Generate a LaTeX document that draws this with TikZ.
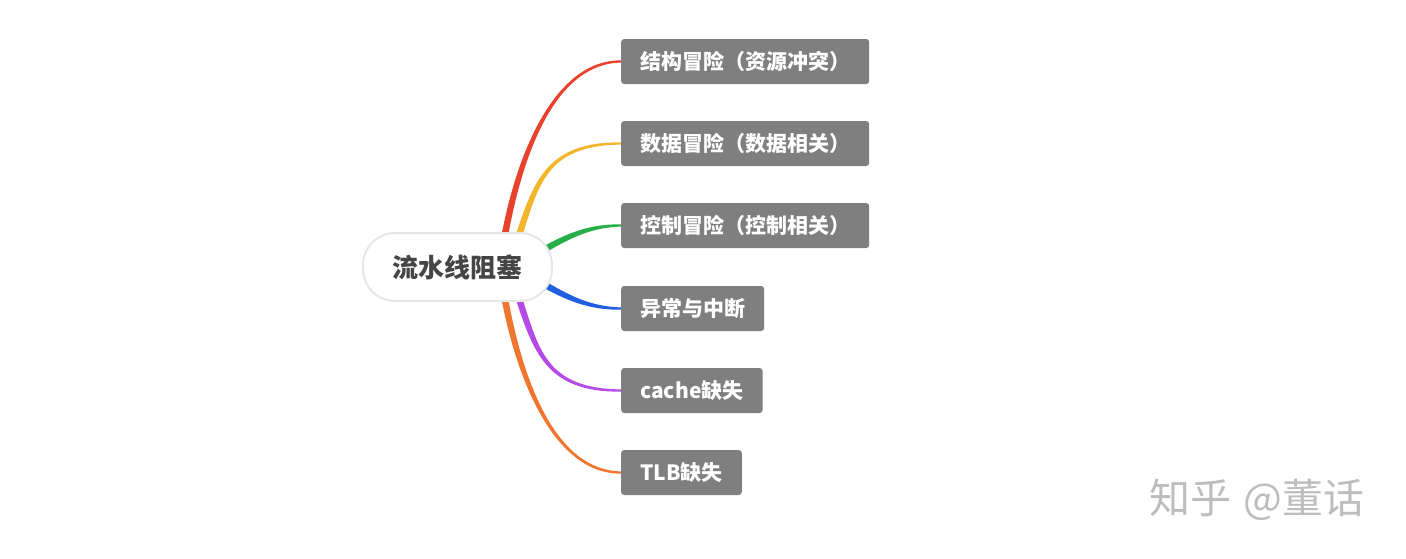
\documentclass[tikz,border=0pt]{standalone}
\usepackage{fontspec}
\setmainfont{Noto Sans CJK SC}
\usepackage{tikz}
\usepackage{xcolor}
\usetikzlibrary{calc,backgrounds}
\definecolor{leafgray}{HTML}{7F7F7F}
\definecolor{rootline}{HTML}{E6E6E6}
\definecolor{roottext}{HTML}{454545}
\definecolor{markgray}{HTML}{BDBDBD}
\definecolor{hzred}{HTML}{E8412C}
\definecolor{hzyellow}{HTML}{F2B52B}
\definecolor{hzgreen}{HTML}{27AE48}
\definecolor{hzblue}{HTML}{1F5FE0}
\definecolor{hzpurple}{HTML}{B44BE6}
\definecolor{hzorange}{HTML}{F07630}
\tikzset{
  root/.style={draw=rootline, line width=2pt, fill=white, rounded corners=32pt,
    minimum width=189pt, minimum height=68pt, inner sep=0pt,
    text=roottext, font=\bfseries\fontsize{26}{26}\selectfont},
  leaf/.style={fill=leafgray, text=white, rounded corners=3pt, anchor=west,
    minimum height=45pt, inner xsep=19pt, inner ysep=0pt,
    font=\bfseries\fontsize{21}{21}\selectfont},
  watermark/.style={text=markgray, anchor=west, font=\fontsize{41}{41}\selectfont},
}
\newcommand{\limb}[6]{%
  \fill[#1] ($(#2)+(#4+90:3.3)$)
    .. controls ($(#2)+(#4:#5)+(#4+90:3)$) and ($(#3.west)+(-#6,2)$) .. ($(#3.west)+(0,1.1)$)
    -- ($(#3.west)+(0,-1.1)$)
    .. controls ($(#3.west)+(-#6,-2)$) and ($(#2)+(#4:#5)+(#4-90:3)$) .. ($(#2)+(#4-90:3.3)$)
    -- cycle;}

\begin{document}
\begin{tikzpicture}[x=1pt,y=-1pt]
  \useasboundingbox (0,0) rectangle (1406,558);
  \node[root] (hazard) at (457.5,267) {流水线阻塞};
  \node[leaf] (b1) at (621,61.5) {结构冒险（资源冲突）};
  \node[leaf] (b2) at (621,143.5) {数据冒险（数据相关）};
  \node[leaf] (b3) at (621,225.5) {控制冒险（控制相关）};
  \node[leaf] (b4) at (621,308.5) {异常与中断};
  \node[leaf] (b5) at (621,390.5) {cache缺失};
  \node[leaf] (b6) at (621,472.5) {TLB缺失};
  \coordinate (s1) at ($(hazard.center)+(46.5,-27)$);
  \coordinate (s2) at ($(hazard.center)+(60,-27)$);
  \coordinate (s3) at ($(hazard.center)+(82.5,-15)$);
  \coordinate (s4) at ($(hazard.center)+(82.5,15)$);
  \coordinate (s5) at ($(hazard.center)+(60,27)$);
  \coordinate (s6) at ($(hazard.center)+(46.5,27)$);
  \begin{scope}[on background layer]
    \limb{hzred}{s1}{b1}{-80}{90}{65}
    \limb{hzyellow}{s2}{b2}{-72}{60}{75}
    \limb{hzgreen}{s3}{b3}{-30}{30}{32}
    \limb{hzblue}{s4}{b4}{30}{30}{32}
    \limb{hzpurple}{s5}{b5}{72}{60}{75}
    \limb{hzorange}{s6}{b6}{80}{90}{65}
  \end{scope}
  \node[watermark] (zhihu) at (1146,500) {知乎\hspace{12pt}@董话};
\end{tikzpicture}
\end{document}
